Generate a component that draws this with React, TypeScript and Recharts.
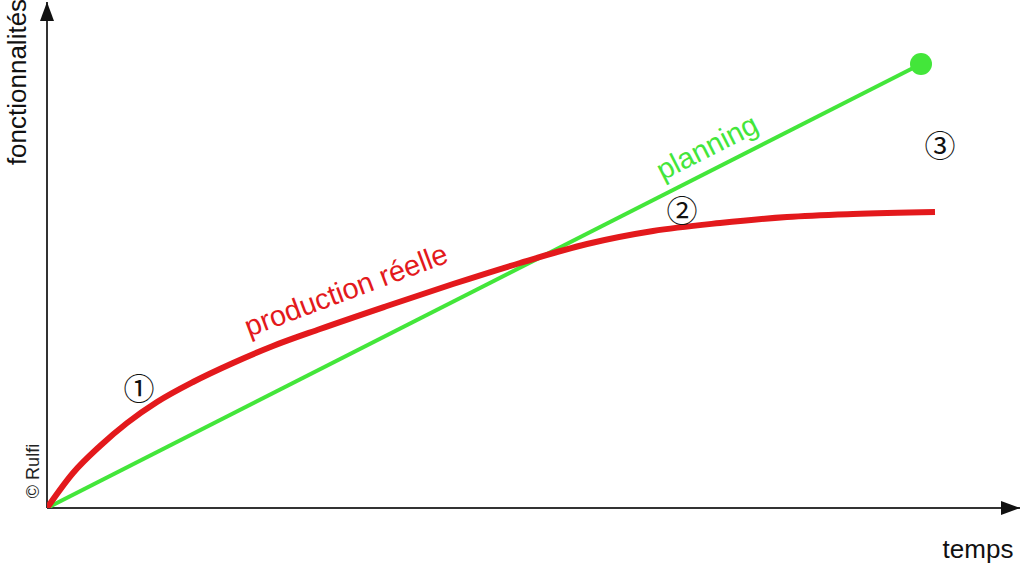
import React from 'react';
import { LineChart, Line, XAxis, YAxis, ReferenceDot, ReferenceLine } from 'recharts';

// ---------------------------------------------------------------------------
// Data (arbitrary units: time vs. delivered features)
// ---------------------------------------------------------------------------

const REAL_TIME = [0, 26, 53, 80, 110, 146, 186, 226, 273, 340, 406, 473, 540, 606, 673, 740, 806, 888];
const REAL_FEATURES = [0, 35, 62, 85, 106, 126, 145, 162, 179, 202, 224, 245, 264, 277, 285, 291, 294, 296];

const PLAN_TIME = [0, 874];
const PLAN_FEATURES = [0, 444];

const X_MAX = 973;
const Y_MAX = 506;

const realData = REAL_TIME.map((t, i) => ({ t, f: REAL_FEATURES[i] }));
const planData = PLAN_TIME.map((t, i) => ({ t, f: PLAN_FEATURES[i] }));

const RED = '#e3191c';
const GREEN = '#43e63a';
const AXIS = '#333333';
const FONT = '"Liberation Sans", Arial, sans-serif';
const CIRCLED = '"Noto Sans CJK JP", "DejaVu Sans"';

// ---------------------------------------------------------------------------
// Helpers
// ---------------------------------------------------------------------------

const textShape =
  (value: string, size: number, color: string, angle = 0, family = FONT) =>
  (props: any) => {
    const { cx, cy } = props;
    return (
      <text
        x={cx}
        y={cy}
        fill={color}
        fontSize={size}
        fontFamily={family}
        textAnchor="middle"
        dominantBaseline="central"
        transform={angle ? `rotate(${angle} ${cx} ${cy})` : undefined}
      >
        {value}
      </text>
    );
  };

const arrowUp = (props: any) => {
  const { cx, cy } = props;
  return <polygon points={`${cx},${cy} ${cx - 7},${cy + 19} ${cx + 7},${cy + 19}`} fill="#111" />;
};

const arrowRight = (props: any) => {
  const { cx, cy } = props;
  return <polygon points={`${cx},${cy} ${cx - 19},${cy - 7} ${cx - 19},${cy + 7}`} fill="#111" />;
};

const planDot = (props: any) => {
  const { cx, cy, index } = props;
  if (index !== planData.length - 1) return <g key={index} />;
  return <circle key={index} cx={cx} cy={cy} r={11} fill={GREEN} />;
};

// ---------------------------------------------------------------------------
// Component
// ---------------------------------------------------------------------------

const App: React.FC = () => (
  <div style={{ position: 'absolute', left: 0, top: 0, width: 1024, height: 564, background: '#fff' }}>
    <LineChart width={1024} height={564} margin={{ top: 2, right: 4, bottom: 56, left: 47 }}>
      <XAxis type="number" dataKey="t" domain={[0, X_MAX]} hide allowDataOverflow />
      <YAxis type="number" dataKey="f" domain={[0, Y_MAX]} hide allowDataOverflow />

      {/* axes with arrow heads */}
      <ReferenceLine y={0} stroke={AXIS} strokeWidth={2} ifOverflow="visible" />
      <ReferenceLine x={0} stroke={AXIS} strokeWidth={2} ifOverflow="visible" />
      <ReferenceDot x={X_MAX} y={0} r={0} ifOverflow="visible" shape={arrowRight} />
      <ReferenceDot x={0} y={Y_MAX} r={0} ifOverflow="visible" shape={arrowUp} />

      <Line
        data={planData}
        dataKey="f"
        type="linear"
        stroke={GREEN}
        strokeWidth={4}
        dot={planDot}
        activeDot={false}
        isAnimationActive={false}
      />
      <Line
        data={realData}
        dataKey="f"
        type="monotone"
        stroke={RED}
        strokeWidth={6}
        dot={false}
        activeDot={false}
        isAnimationActive={false}
      />

      <ReferenceDot x={-30} y={426} r={0} ifOverflow="visible" shape={textShape('fonctionnalités', 26, '#111', -90)} />
      <ReferenceDot x={931} y={-41} r={0} ifOverflow="visible" shape={textShape('temps', 26, '#111')} />
      <ReferenceDot x={-14} y={37} r={0} ifOverflow="visible" shape={textShape('© Rulfi', 18, '#222', -90)} />

      <ReferenceDot x={299} y={218} r={0} ifOverflow="visible" shape={textShape('production réelle', 29, RED, -20.5)} />
      <ReferenceDot x={660} y={361} r={0} ifOverflow="visible" shape={textShape('planning', 29, GREEN, -27)} />

      <ReferenceDot x={92} y={122} r={0} ifOverflow="visible" shape={textShape('①', 31, '#111', 0, CIRCLED)} />
      <ReferenceDot x={635} y={300} r={0} ifOverflow="visible" shape={textShape('②', 31, '#111', 0, CIRCLED)} />
      <ReferenceDot x={893} y={365} r={0} ifOverflow="visible" shape={textShape('③', 31, '#111', 0, CIRCLED)} />
    </LineChart>
  </div>
);

export default App;
